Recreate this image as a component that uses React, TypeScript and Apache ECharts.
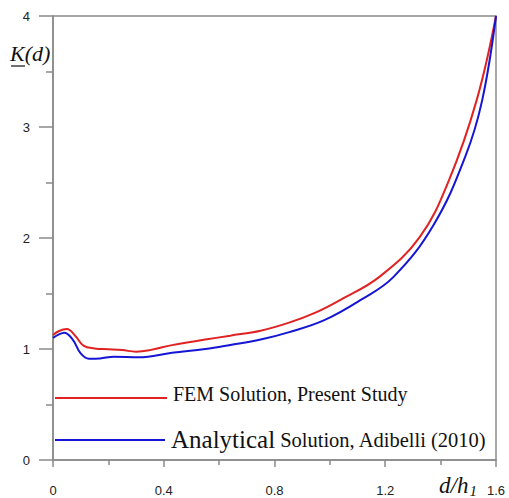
import React, { useEffect, useRef } from "react";
import * as echarts from "echarts";

const femX = [0, 0.02, 0.05, 0.08, 0.11, 0.15, 0.2, 0.25, 0.3, 0.35, 0.43, 0.55, 0.64, 0.75, 0.85, 0.95, 1.04, 1.18, 1.325, 1.43, 1.53, 1.6];
const femY = [1.125, 1.16, 1.18, 1.12, 1.03, 1.005, 0.998, 0.99, 0.976, 0.99, 1.035, 1.085, 1.12, 1.165, 1.235, 1.33, 1.445, 1.652, 2.01, 2.52, 3.24, 4.0];
const anaX = [0, 0.02, 0.04, 0.07, 0.1, 0.13, 0.17, 0.22, 0.31, 0.43, 0.55, 0.64, 0.75, 0.85, 0.98, 1.11, 1.23, 1.375, 1.49, 1.55, 1.6];
const anaY = [1.1, 1.13, 1.147, 1.09, 0.96, 0.912, 0.915, 0.93, 0.925, 0.967, 1.0, 1.036, 1.085, 1.15, 1.26, 1.44, 1.65, 2.12, 2.74, 3.24, 4.0];
const xTicks = [0, 0.4, 0.8, 1.2, 1.6];
const yTicks = [0, 1, 2, 3, 4];
const femName = "FEM Solution, Present Study";
const anaName = "Analytical Solution, Adibelli (2010)";

export default function App() {
  const ref = useRef<HTMLDivElement>(null);
  useEffect(() => {
    document.body.style.margin = "0";
    const chart = echarts.init(ref.current!, null, { renderer: "svg" });
    const axisColor = "#8a8a8a";
    const serif = "'Liberation Serif', 'Times New Roman', serif";
    const labelStyle = { color: "#222", fontFamily: "Liberation Sans, Arial, sans-serif", fontSize: 13 };
    chart.setOption({
      animation: false,
      grid: { left: 53, right: 13, top: 16, bottom: 38, show: true, borderColor: axisColor, borderWidth: 1.5 },
      xAxis: {
        type: "value",
        min: xTicks[0],
        max: xTicks[xTicks.length - 1],
        interval: 0.4,
        axisLine: { show: true, lineStyle: { color: axisColor, width: 1.5 } },
        axisTick: { show: true, length: 7, lineStyle: { color: axisColor, width: 1.5 } },
        minorTick: { show: true, splitNumber: 2, length: 5, lineStyle: { color: axisColor, width: 1.5 } },
        splitLine: { show: false },
        axisLabel: { ...labelStyle, margin: 24, formatter: (v: number) => (v === 0 ? "0" : v.toFixed(1)) },
      },
      yAxis: {
        type: "value",
        min: yTicks[0],
        max: yTicks[yTicks.length - 1],
        interval: 1,
        axisLine: { show: true, lineStyle: { color: axisColor, width: 1.5 } },
        axisTick: { show: true, length: 14, lineStyle: { color: axisColor, width: 1.5 } },
        minorTick: { show: true, splitNumber: 2, length: 7, lineStyle: { color: axisColor, width: 1.5 } },
        splitLine: { show: false },
        axisLabel: { ...labelStyle, margin: 23 },
      },
      legend: [
        {
          data: [femName],
          left: 55,
          top: 384,
          padding: 0,
          icon: "rect",
          itemWidth: 112,
          itemHeight: 2,
          formatter: () => "{t|FEM Solution, Present Study}",
          textStyle: {
            color: "#111",
            rich: { t: { fontSize: 20, fontFamily: serif, color: "#111", padding: [0, 0, 8, 1] } },
          },
        },
        {
          data: [anaName],
          left: 55,
          top: 427,
          padding: 0,
          icon: "rect",
          itemWidth: 110,
          itemHeight: 2,
          formatter: () => "{big|Analytical} {norm|Solution, Adibelli (2010)}",
          textStyle: {
            fontFamily: serif,
            fontSize: 20,
            color: "#111",
            rich: {
              big: { fontSize: 25, fontFamily: serif, color: "#111", padding: [0, 0, 1, 1] },
              norm: { fontSize: 20.5, fontFamily: serif, color: "#111" },
            },
          },
        },
      ],
      series: [
        {
          name: femName,
          type: "line",
          smooth: 0.4,
          symbol: "none",
          color: "#e02222",
          lineStyle: { width: 2, color: "#e02222" },
          data: femX.map((x, i) => [x, femY[i]]),
        },
        {
          name: anaName,
          type: "line",
          smooth: 0.4,
          symbol: "none",
          color: "#1515d5",
          lineStyle: { width: 2, color: "#1515d5" },
          data: anaX.map((x, i) => [x, anaY[i]]),
        },
      ],
      graphic: [
        {
          type: "text",
          left: 10,
          top: 42,
          style: { text: "K(d)", font: "italic 22px 'Liberation Serif', 'Times New Roman', serif", fill: "#111" },
        },
        {
          type: "line",
          shape: { x1: 11, y1: 66, x2: 25, y2: 66 },
          style: { stroke: "#111", lineWidth: 1.2 },
        },
        {
          type: "text",
          left: 439,
          top: 474,
          style: {
            text: "{m|d/h}{s|1}",
            rich: {
              m: { font: "italic 23px 'Liberation Serif', 'Times New Roman', serif", fill: "#111" },
              s: { font: "italic 15px 'Liberation Serif', 'Times New Roman', serif", fill: "#111", padding: [10, 0, 0, 1] },
            },
          },
        },
      ],
    });
    return () => chart.dispose();
  }, []);
  return <div ref={ref} style={{ width: 509, height: 498 }} />;
}
